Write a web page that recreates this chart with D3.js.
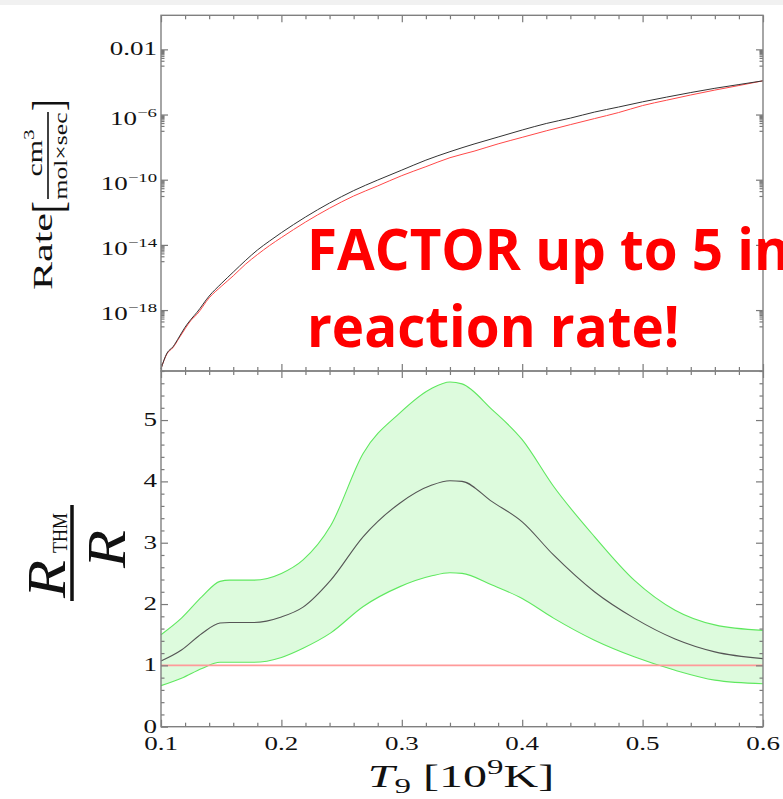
<!DOCTYPE html>
<html><head><meta charset="utf-8">
<script src="https://cdn.jsdelivr.net/npm/d3@7"></script>
<style>body{margin:0;background:#fff;overflow:hidden}</style>
</head><body>
<svg id="c" width="783" height="799"></svg>
<script>
// ---- data ----
const rateT = [0.1,0.105,0.11,0.115,0.12,0.125,0.13,0.14,0.15,0.16,0.17,0.18,0.19,0.2,0.22,0.24,0.26,0.28,0.3,0.32,0.34,0.36,0.38,0.4,0.42,0.44,0.46,0.48,0.5,0.52,0.54,0.56,0.58,0.6];
// log10 of rate (cm^3 / mol sec)
const rateTHMExp = [-21.6,-20.64,-20.25,-19.66,-19.05,-18.56,-18.13,-17.14,-16.38,-15.67,-14.97,-14.32,-13.77,-13.25,-12.29,-11.43,-10.67,-10.02,-9.41,-8.8,-8.28,-7.81,-7.38,-6.95,-6.55,-6.22,-5.85,-5.54,-5.22,-4.93,-4.65,-4.39,-4.16,-3.93];
const rateStdExp = [-21.6,-20.68,-20.3,-19.72,-19.15,-18.62,-18.25,-17.25,-16.55,-15.9,-15.2,-14.6,-14.05,-13.55,-12.6,-11.75,-11.0,-10.38,-9.75,-9.2,-8.65,-8.25,-7.8,-7.4,-7.0,-6.62,-6.25,-5.88,-5.45,-5.12,-4.8,-4.5,-4.22,-3.93];

const ratioT   = [0.1,0.117,0.134,0.149,0.157,0.177,0.2,0.218,0.241,0.268,0.298,0.325,0.34,0.35,0.375,0.4,0.426,0.46,0.493,0.527,0.56,0.6];
const ratioMid = [1.07,1.25,1.52,1.69,1.70,1.70,1.79,1.95,2.39,3.10,3.64,3.94,4.01,4.00,3.67,3.34,2.80,2.20,1.77,1.43,1.22,1.11];
const ratioHi  = [1.50,1.77,2.12,2.37,2.39,2.39,2.50,2.72,3.28,4.46,5.11,5.52,5.62,5.59,5.17,4.68,3.92,3.10,2.39,1.90,1.66,1.57];
const ratioLo  = [0.67,0.79,0.95,1.05,1.05,1.05,1.13,1.28,1.53,1.96,2.28,2.46,2.51,2.50,2.31,2.09,1.77,1.41,1.14,0.92,0.76,0.70];
const ratioRef = [1];

const xTickLabels = [0.1,0.2,0.3,0.4,0.5,0.6];
const rateTickExps = [-2,-6,-10,-14,-18];
const ratioTickLabels = [0,1,2,3,4,5];

// ---- layout ----
const L = 161, R = 763;
const topT = 15.3, midY = 371, botY = 726.7;
const SX = 1.5; // horizontal stretch of the original figure's lettering
const svg = d3.select("#c");
svg.append("rect").attr("x",0).attr("y",0).attr("width",783).attr("height",5).attr("fill","#f1f1f1");

const x = d3.scaleLinear().domain([0.1,0.6]).range([L,R]);
const yTop = d3.scaleLog().domain([Math.pow(10,-21.74), Math.pow(10,0.09)]).range([midY, topT]);
const yBot = d3.scaleLinear().domain([0,5.8]).range([botY, midY]);

const serif = "'Liberation Serif','DejaVu Serif',serif";
const tickCol = "#7a7a7a";

// stretched text helper
function stext(parent, px, py, opts){
  const g = parent.append("g").attr("transform",
    `translate(${px},${py})` + (opts.rot ? " rotate(-90)" : "") + ` scale(${opts.sx||1},1)`);
  return g.append("text").attr("x",0).attr("y",0)
    .attr("text-anchor",opts.anchor||"start")
    .attr("font-family",opts.family||serif)
    .attr("font-size",opts.size)
    .attr("fill",opts.fill||"#111");
}

// ---- bottom panel: band, lines ----
const gB = svg.append("g");
const idx = d3.range(ratioT.length);
gB.append("path")
  .attr("d", d3.area().x(i=>x(ratioT[i])).y0(i=>yBot(ratioLo[i])).y1(i=>yBot(ratioHi[i])).curve(d3.curveMonotoneX)(idx))
  .attr("fill","#ddfbdd");
gB.append("path")
  .attr("d", d3.line().x(i=>x(ratioT[i])).y(i=>yBot(ratioHi[i])).curve(d3.curveMonotoneX)(idx))
  .attr("fill","none").attr("stroke","#5fe85f").attr("stroke-width",1.1);
gB.append("path")
  .attr("d", d3.line().x(i=>x(ratioT[i])).y(i=>yBot(ratioLo[i])).curve(d3.curveMonotoneX)(idx))
  .attr("fill","none").attr("stroke","#5fe85f").attr("stroke-width",1.1);
gB.append("line").attr("x1",x(0.1)).attr("x2",x(0.6)).attr("y1",yBot(ratioRef[0])).attr("y2",yBot(ratioRef[0]))
  .attr("stroke","#ff9a9a").attr("stroke-width",1.6);
gB.append("path")
  .attr("d", d3.line().x(i=>x(ratioT[i])).y(i=>yBot(ratioMid[i])).curve(d3.curveMonotoneX)(idx))
  .attr("fill","none").attr("stroke","#555").attr("stroke-width",1.1);

// ---- top panel lines ----
const rIdx = d3.range(rateT.length);
svg.append("path")
  .attr("d", d3.line().x(i=>x(rateT[i])).y(i=>yTop(Math.pow(10,rateStdExp[i]))).curve(d3.curveMonotoneX)(rIdx))
  .attr("fill","none").attr("stroke","#ff4848").attr("stroke-width",1);
svg.append("path")
  .attr("d", d3.line().x(i=>x(rateT[i])).y(i=>yTop(Math.pow(10,rateTHMExp[i]))).curve(d3.curveMonotoneX)(rIdx))
  .attr("fill","none").attr("stroke","#333").attr("stroke-width",1);

// ---- ticks ----
const xMinor = d3.range(0.1, 0.6001, 0.02).map(v=>+v.toFixed(2)).filter(v=>!xTickLabels.some(m=>Math.abs(m-v)<1e-6));
function noDomain(g){ g.select(".domain").remove(); g.selectAll("line").attr("stroke",tickCol).attr("stroke-width",1.2); }
function xTicksAt(y, dir){ // dir: -1 ticks up, +1 ticks down
  const mk = () => dir<0 ? d3.axisBottom(x) : d3.axisTop(x);
  svg.append("g").attr("transform",`translate(0,${y})`).call(mk().tickValues(xTickLabels).tickSize(-7).tickFormat("")).call(noDomain);
  svg.append("g").attr("transform",`translate(0,${y})`).call(mk().tickValues(xMinor).tickSize(-4).tickFormat("")).call(noDomain);
}
xTicksAt(botY,-1); xTicksAt(midY,-1); xTicksAt(midY,1); xTicksAt(topT,1);

const rateMajor = rateTickExps.map(e=>Math.pow(10,e));
const rateMinor = [];
rateTickExps.forEach(e=>{ for(let k=1;k<=9;k++) rateMinor.push(k*Math.pow(10,e-1)); });
function yTicksAt(scale, major, minor, xpos, side){
  const mk = () => side<0 ? d3.axisLeft(scale) : d3.axisRight(scale);
  svg.append("g").attr("transform",`translate(${xpos},0)`).call(mk().tickValues(major).tickSize(-7).tickFormat("")).call(noDomain);
  svg.append("g").attr("transform",`translate(${xpos},0)`).call(mk().tickValues(minor).tickSize(-3.5).tickFormat("")).call(noDomain);
}
yTicksAt(yTop, rateMajor, rateMinor, L, -1);
yTicksAt(yTop, rateMajor, rateMinor, R, 1);
const ratioMinor = d3.range(0,5.8001,0.2).map(v=>+v.toFixed(1)).filter(v=>Math.abs(v-Math.round(v))>1e-6);
yTicksAt(yBot, ratioTickLabels, ratioMinor, L, -1);
yTicksAt(yBot, ratioTickLabels, ratioMinor, R, 1);

// frames
[[topT,midY],[midY,botY]].forEach(([a,b])=>{
  svg.append("rect").attr("x",L).attr("y",a).attr("width",R-L).attr("height",b-a)
    .attr("fill","none").attr("stroke","#808080").attr("stroke-width",1.4);
});

// ---- tick labels ----
rateTickExps.forEach(e=>{
  const yy = yTop(Math.pow(10,e));
  if (e === -2) {
    stext(svg,157,yy+6,{anchor:"end",size:18,sx:SX}).text("0.01");
  } else {
    const t = stext(svg,157,yy+10,{anchor:"end",size:18,sx:SX});
    t.append("tspan").text("10");
    t.append("tspan").attr("dy",-8).attr("font-size",12.5).text("\u2212"+(-e));
  }
});
ratioTickLabels.forEach(v=>{
  stext(svg,157,yBot(v)+6,{anchor:"end",size:18,sx:SX}).text(v);
});
xTickLabels.forEach(v=>{
  stext(svg,x(v),750,{anchor:"middle",size:18,sx:SX}).text(v.toFixed(1));
});

// ---- axis titles ----
const xt = stext(svg,461,787,{anchor:"middle",size:32,sx:SX});
xt.append("tspan").attr("font-style","italic").text("T");
xt.append("tspan").attr("font-size",22).attr("dy",6).text("9");
xt.append("tspan").attr("dy",-6).text(" [10");
xt.append("tspan").attr("font-size",22).attr("dy",-13).text("9");
xt.append("tspan").attr("dy",13).text("K]");

// top y label (rotated): Rate[ cm^3 / mol×sec ]
stext(svg,52,290,{rot:true,size:28,sx:1.5}).text("Rate");
stext(svg,63,213,{rot:true,size:44,sx:0.8}).text("[");
stext(svg,63,111,{rot:true,size:44,sx:0.8}).text("]");
const num = stext(svg,42,153,{rot:true,anchor:"middle",size:20,sx:1.5});
num.append("tspan").text("cm");
num.append("tspan").attr("dy",-8).attr("font-size",14).text("3");
stext(svg,67,156,{rot:true,anchor:"middle",size:19,sx:1.35}).text("mol\u00d7sec");
svg.append("line").attr("x1",48).attr("x2",48).attr("y1",112).attr("y2",199).attr("stroke","#111").attr("stroke-width",1.6);

// bottom y label: R_THM / R
stext(svg,65,598,{rot:true,size:54,sx:1.15}).attr("font-style","italic").text("R");
stext(svg,67,553,{rot:true,size:22,sx:1.0}).attr("textLength",40).attr("lengthAdjust","spacingAndGlyphs").text("THM");
stext(svg,125,568,{rot:true,size:54,sx:1.15}).attr("font-style","italic").text("R");
svg.append("line").attr("x1",72).attr("x2",72).attr("y1",505).attr("y2",601).attr("stroke","#111").attr("stroke-width",3.5);

// ---- annotation ----
const ann = svg.append("g");
stext(ann,307,270,{size:57,sx:0.96,family:"'Open Sans','Noto Sans',sans-serif",fill:"#ff0000"}).attr("font-weight",700).text("FACTOR up to 5 in");
stext(ann,307,347,{size:57,sx:0.96,family:"'Open Sans','Noto Sans',sans-serif",fill:"#ff0000"}).attr("font-weight",700).text("reaction rate!");
</script>
</body></html>
